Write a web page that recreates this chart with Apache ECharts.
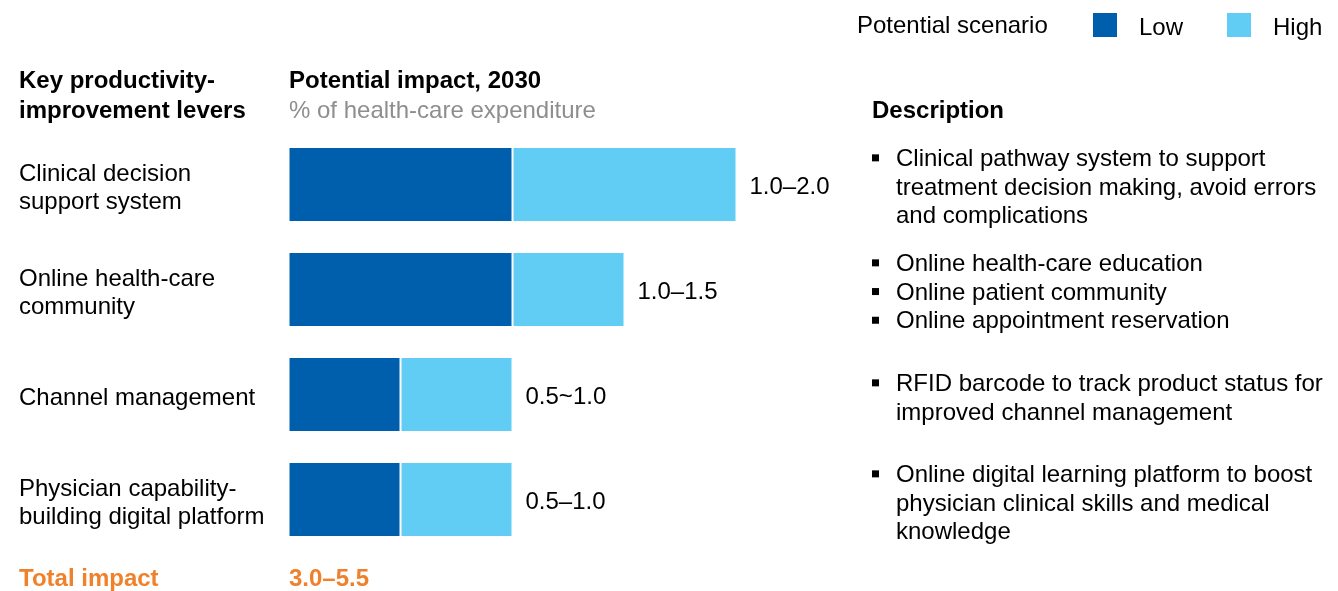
<!DOCTYPE html>
<html>
<head>
<meta charset="utf-8">
<script src="https://cdn.jsdelivr.net/npm/echarts@6/dist/echarts.min.js"></script>
<style>
  html, body { margin: 0; padding: 0; background: #ffffff; }
  #chart { width: 1338px; height: 591px; }
</style>
</head>
<body>
<div id="chart"></div>
<script>
// Levers, from top to bottom
const categories = [
  'Clinical decision\nsupport system',
  'Online health-care\ncommunity',
  'Channel management',
  'Physician capability-\nbuilding digital platform'
];
// Low scenario impact, % of health-care expenditure
const lowValues = [1.0, 1.0, 0.5, 0.5];
// Additional impact reached in the high scenario (stacked on low)
const highExtra = [1.0, 0.5, 0.5, 0.5];
// Range labels shown at the end of each bar
const rangeLabels = ['1.0–2.0', '1.0–1.5', '0.5~1.0', '0.5–1.0'];
// Bullet descriptions per lever
const descriptions = [
  ['Clinical pathway system to support\ntreatment decision making, avoid errors\nand complications'],
  ['Online health-care education', 'Online patient community', 'Online appointment reservation'],
  ['RFID barcode to track product status for\nimproved channel management'],
  ['Online digital learning platform to boost\nphysician clinical skills and medical\nknowledge']
];
const totalLabel = 'Total impact';
const totalRange = '3.0–5.5';

const FONT = '"Liberation Sans", Arial, Helvetica, sans-serif';
const FS = 24;
const LOW_COLOR = '#005FAD';
const HIGH_COLOR = '#62CDF4';
const ORANGE = '#F0802A';

const chart = echarts.init(document.getElementById('chart'), null, { renderer: 'canvas' });

// Description blocks: top y of each group
const descTops = [145, 250, 370, 461];
const LINE_H = 28.7;
const descGraphics = [];
descriptions.forEach((items, gi) => {
  let y = descTops[gi];
  items.forEach(item => {
    const nLines = item.split('\n').length;
    descGraphics.push({
      type: 'rect',
      shape: { x: 872, y: y + LINE_H / 2 - 5, width: 7, height: 7 },
      style: { fill: '#000000' }
    });
    descGraphics.push({
      type: 'text',
      x: 896, y: y,
      style: {
        text: item,
        font: FS + 'px ' + FONT,
        lineHeight: LINE_H,
        fill: '#000000',
        textAlign: 'left',
        textVerticalAlign: 'top'
      }
    });
    y += nLines * LINE_H;
  });
});

function txt(x, y, text, bold, fill) {
  return {
    type: 'text', x: x, y: y,
    style: {
      text: text,
      font: (bold ? 'bold ' : '') + FS + 'px ' + FONT,
      fill: fill || '#000000',
      textAlign: 'left',
      textVerticalAlign: 'middle'
    }
  };
}

// thin spacer line above a label, to sit its text a little lower
const nudged = text => '{s| }\n' + text.split('\n').map(l => '{t|' + l + '}').join('\n');

const option = {
  backgroundColor: '#ffffff',
  animation: false,
  textStyle: { fontFamily: FONT },
  legend: {
    left: 1093, top: 9,
    padding: 0,
    itemWidth: 24, itemHeight: 24,
    itemGap: 44,
    icon: 'rect',
    selectedMode: false,
    itemStyle: { borderWidth: 0 },
    formatter: nudged,
    textStyle: {
      fontSize: FS, color: '#000000', fontFamily: FONT,
      rich: {
        s: { fontSize: 4, lineHeight: 7 },
        t: { fontSize: FS, lineHeight: 28, color: '#000000', fontFamily: FONT, padding: [0, 0, 0, 17] }
      }
    },
    data: ['Low', 'High']
  },
  grid: { left: 288.5, top: 132, width: 560, height: 420, containLabel: false },
  xAxis: {
    type: 'value', min: 0, max: 2.5,
    show: false
  },
  yAxis: {
    type: 'category',
    data: categories,
    inverse: true,
    axisLine: { show: false },
    axisTick: { show: false },
    splitLine: { show: false },
    axisLabel: {
      align: 'left',
      margin: 269.5,
      color: '#000000',
      fontFamily: FONT,
      formatter: nudged,
      rich: {
        s: { fontSize: 4, lineHeight: 8 },
        t: { fontSize: FS, lineHeight: 28, color: '#000000', fontFamily: FONT }
      }
    }
  },
  series: [
    {
      name: 'Low', type: 'bar', stack: 'impact',
      data: lowValues, barWidth: 75,
      itemStyle: { color: LOW_COLOR, borderColor: '#ffffff', borderWidth: 1 }
    },
    {
      name: 'High', type: 'bar', stack: 'impact',
      data: highExtra, barWidth: 75,
      itemStyle: { color: HIGH_COLOR, borderColor: '#ffffff', borderWidth: 1 },
      label: {
        show: true, position: 'right', distance: 13, offset: [0, 3],
        fontSize: FS, color: '#000000', fontFamily: FONT,
        formatter: p => rangeLabels[p.dataIndex]
      }
    }
  ],
  graphic: [
    txt(857, 26, 'Potential scenario'),
    txt(19, 81, 'Key productivity-', true),
    txt(19, 111, 'improvement levers', true),
    txt(289, 81, 'Potential impact, 2030', true),
    txt(289, 111, '% of health-care expenditure', false, '#8E8E8E'),
    txt(872, 111, 'Description', true),
    txt(19, 579, totalLabel, true, ORANGE),
    txt(289, 579, totalRange, true, ORANGE)
  ].concat(descGraphics)
};

chart.setOption(option);
</script>
</body>
</html>
